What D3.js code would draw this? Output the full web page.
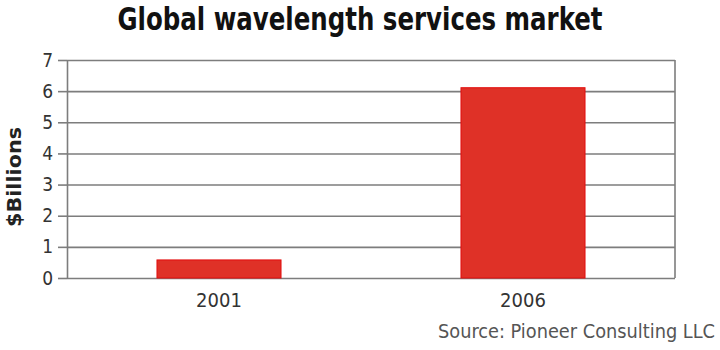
<!DOCTYPE html>
<html>
<head>
<meta charset="utf-8">
<script src="https://cdn.jsdelivr.net/npm/d3@7"></script>
<style>
  body { margin: 0; background: #fff; }
  svg { display: block; }
</style>
</head>
<body>
<svg id="chart" width="720" height="350"></svg>
<script>
const categories = ['2001', '2006'];
const values = [0.58, 6.11];
const yTicks = [0, 1, 2, 3, 4, 5, 6, 7];

const FONT = '"DejaVu Sans Condensed", "Liberation Sans Narrow", sans-serif';
const GRID = '#7d7d7d';

const width = 720, height = 350;
const margin = { top: 60, right: 45, bottom: 72, left: 67 };
const innerWidth = width - margin.left - margin.right;
const innerHeight = height - margin.top - margin.bottom;

const svg = d3.select('#chart');

const g = svg.append('g')
    .attr('transform', `translate(${margin.left},${margin.top})`);

const x = d3.scaleBand()
    .domain(categories)
    .range([0, innerWidth])
    .paddingInner(0.592)
    .paddingOuter(0.296);

const y = d3.scaleLinear()
    .domain([0, 7])
    .range([innerHeight, 0]);

// horizontal gridlines
const grid = g.append('g')
    .call(d3.axisLeft(y)
        .tickValues(yTicks)
        .tickFormat('')
        .tickSize(-innerWidth)
        .tickSizeOuter(0));
grid.select('.domain').remove();
grid.selectAll('.tick line')
    .attr('stroke', GRID)
    .attr('stroke-width', 1.6);
grid.selectAll('.tick text').remove();

// y axis with short outer ticks and labels
const yg = g.append('g')
    .call(d3.axisLeft(y)
        .tickValues(yTicks)
        .tickFormat(d3.format('d'))
        .tickSize(9)
        .tickSizeOuter(0)
        .tickPadding(5))
    .attr('font-family', FONT)
    .attr('font-size', 19);
yg.select('.domain')
    .attr('stroke', GRID)
    .attr('stroke-width', 1.6);
yg.selectAll('.tick line')
    .attr('stroke', GRID)
    .attr('stroke-width', 1.6);
yg.selectAll('.tick text')
    .attr('fill', '#333');

// right side of the frame
g.append('line')
    .attr('x1', innerWidth).attr('x2', innerWidth)
    .attr('y1', 0).attr('y2', innerHeight)
    .attr('stroke', GRID).attr('stroke-width', 1.6);

// bars
g.selectAll('.bar')
    .data(values)
    .join('rect')
    .attr('class', 'bar')
    .attr('x', (d, i) => x(categories[i]))
    .attr('y', d => y(d))
    .attr('width', x.bandwidth())
    .attr('height', d => y(0) - y(d))
    .attr('fill', '#df3127')
    .attr('stroke', '#e30d0d')
    .attr('stroke-width', 1);

// x axis labels
const xg = g.append('g')
    .attr('transform', `translate(0,${innerHeight})`)
    .call(d3.axisBottom(x).tickSize(0).tickPadding(15))
    .attr('font-family', FONT)
    .attr('font-size', 20);
xg.select('.domain').remove();
xg.selectAll('.tick text')
    .attr('fill', '#333');

// title
svg.append('text')
    .attr('x', 360)
    .attr('y', 30)
    .attr('text-anchor', 'middle')
    .attr('font-family', FONT)
    .attr('font-weight', 'bold')
    .attr('font-size', 32)
    .attr('textLength', 485)
    .attr('lengthAdjust', 'spacingAndGlyphs')
    .attr('fill', '#111')
    .text('Global wavelength services market');

// y axis label
svg.append('text')
    .attr('transform', 'translate(21,177) rotate(-90)')
    .attr('text-anchor', 'middle')
    .attr('font-family', FONT)
    .attr('font-weight', 'bold')
    .attr('font-size', 20)
    .attr('textLength', 100)
    .attr('lengthAdjust', 'spacingAndGlyphs')
    .attr('fill', '#222')
    .text('$Billions');

// source
svg.append('text')
    .attr('x', 715)
    .attr('y', 338)
    .attr('text-anchor', 'end')
    .attr('font-family', FONT)
    .attr('font-size', 20)
    .attr('textLength', 277)
    .attr('lengthAdjust', 'spacingAndGlyphs')
    .attr('fill', '#555')
    .text('Source: Pioneer Consulting LLC');
</script>
</body>
</html>
